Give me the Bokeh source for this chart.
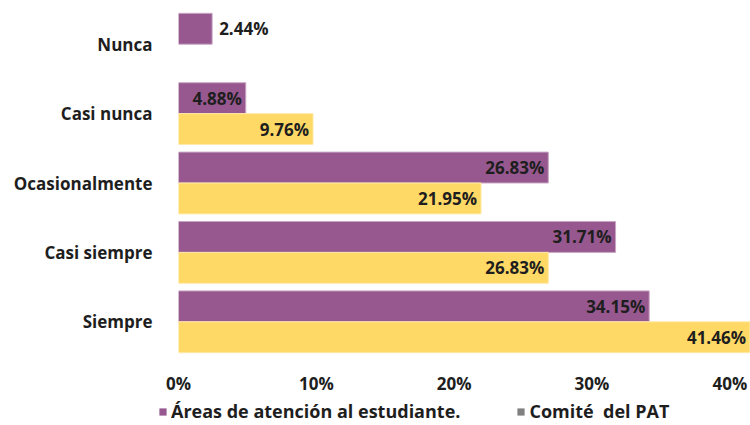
from bokeh.plotting import figure
from bokeh.layouts import column, row
from bokeh.models import (ColumnDataSource, FactorRange, Range1d, Legend, LegendItem,
                          PrintfTickFormatter, FixedTicker)
from bokeh.core.properties import value
from bokeh.transform import dodge
from bokeh.embed import file_html
from bokeh.resources import INLINE

# Response categories, bottom to top on the chart
categories = ["Siempre", "Casi siempre", "Ocasionalmente", "Casi nunca", "Nunca"]
areas = [34.15, 31.71, 26.83, 4.88, 2.44]        # Áreas de atención al estudiante.
comite = [41.46, 26.83, 21.95, 9.76, 0.0]        # Comité del PAT
x_ticks = [0, 10, 20, 30, 40]

series_names = ["Áreas de atención al estudiante.", "Comité  del PAT"]

PURPLE = "#96588F"
YELLOW = "#FFD966"
LEGEND_GREY = "#808080"
FONT = "Open Sans"
TXT = "#1e1e1e"

p = figure(width=750, height=397, y_range=FactorRange(factors=categories),
           x_range=Range1d(0, 41.5), output_backend="svg", toolbar_location=None,
           min_border_left=178, min_border_right=0, min_border_top=9,
           min_border_bottom=40)
p.outline_line_color = None
p.xgrid.grid_line_color = None
p.ygrid.grid_line_color = None

bar_h = 0.445
off = 0.2225

src_a = ColumnDataSource(dict(cat=categories, v=areas))
comite_cats = [c for c, v in zip(categories, comite) if v > 0]
comite_vals = [v for v in comite if v > 0]
src_c = ColumnDataSource(dict(cat=comite_cats, v=comite_vals))

p.hbar(y=dodge("cat", off, range=p.y_range), right="v", left=0, height=bar_h,
       source=src_a, fill_color=PURPLE, line_color="#c9a6c4", line_width=1)
p.hbar(y=dodge("cat", -off, range=p.y_range), right="v", left=0, height=bar_h,
       source=src_c, fill_color=YELLOW, line_color="#ffe9a8", line_width=1)

# Value labels: inside the bar end, or just outside when the bar is short
threshold = 4.0
def split(vals, cats):
    inside = dict(cat=[], v=[], lab=[])
    outside = dict(cat=[], v=[], lab=[])
    for c, v in zip(cats, vals):
        d = inside if v >= threshold else outside
        d["cat"].append(c); d["v"].append(v); d["lab"].append(f"{v:.2f}%")
    return inside, outside

for vals, cats, o in ((areas, categories, off), (comite_vals, comite_cats, -off)):
    ins, outs = split(vals, cats)
    for data, xo, align in ((ins, -4, "right"), (outs, 7, "left")):
        if not data["v"]:
            continue
        p.text(x="v", y=dodge("cat", o, range=p.y_range), text="lab",
               source=ColumnDataSource(data), x_offset=xo, text_align=align,
               text_baseline="middle", text_font=value(FONT), text_font_style="bold",
               text_font_size="17px", text_color=TXT)

# Axes
p.xaxis.ticker = FixedTicker(ticks=x_ticks)
p.xaxis.formatter = PrintfTickFormatter(format="%d%%")
for ax in (p.xaxis, p.yaxis):
    ax.axis_line_color = None
    ax.major_tick_line_color = None
    ax.minor_tick_line_color = None
    ax.major_label_text_font = FONT
    ax.major_label_text_font_style = "bold"
    ax.major_label_text_color = TXT
p.xaxis.major_label_text_font_size = "17px"
p.xaxis.major_label_standoff = 9
p.yaxis.major_label_text_font_size = "17px"
p.yaxis.major_label_standoff = 20

# Legend strip underneath the chart
lf = figure(width=750, height=28, x_range=Range1d(0, 1), y_range=Range1d(0, 1),
            output_backend="svg", toolbar_location=None,
            min_border_left=0, min_border_right=0, min_border_top=0, min_border_bottom=0)
lf.axis.visible = False
lf.grid.visible = False
lf.outline_line_color = None
r1 = lf.rect(x=[-5], y=[-5], width=0.1, height=0.1, fill_color=PURPLE, line_color=None)
r2 = lf.rect(x=[-5], y=[-5], width=0.1, height=0.1, fill_color=LEGEND_GREY, line_color=None)
legend = Legend(items=[LegendItem(label=series_names[0], renderers=[r1]),
                       LegendItem(label=series_names[1], renderers=[r2])],
                orientation="horizontal", location=(158, 2),
                label_text_font=FONT, label_text_font_style="bold",
                label_text_font_size="18px", label_text_color=TXT,
                glyph_width=9, glyph_height=9, spacing=56, padding=2, margin=0,
                label_standoff=4, border_line_color=None, background_fill_alpha=0)
lf.add_layout(legend, "center")

open("out.html", "w").write(file_html(column(p, row(lf, spacing=0), spacing=0), INLINE))
